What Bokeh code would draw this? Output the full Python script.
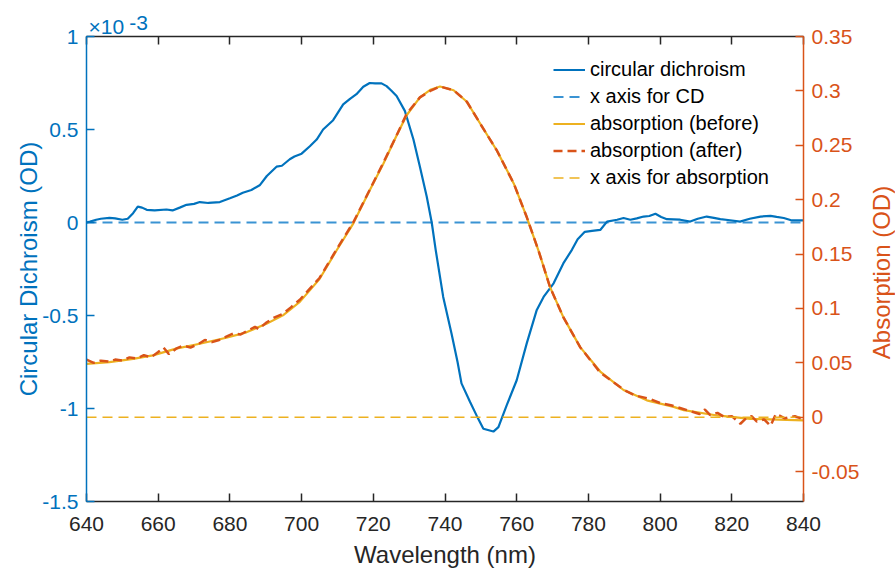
import math
from bokeh.plotting import figure
from bokeh.models import (Range1d, LinearAxis, FixedTicker, CustomJSTickFormatter,
                          Label, Legend, LegendItem)
from bokeh.embed import file_html
from bokeh.resources import INLINE

# ---------------- data ----------------
cd_wavelength = [640, 641, 642.7, 644, 646.4, 648, 650, 651.5, 653, 654.3, 655.5, 656.8,
                 659, 662.3, 664, 666, 667.9, 670, 671.6, 674, 677.2, 680, 682, 683.6,
                 686, 688.3, 690.3, 693, 694.5, 696.7, 698, 700, 702.3, 704.2, 706, 708.8,
                 711.6, 713.5, 715.3, 717.2, 719, 720.5, 722.3, 723.7, 725, 726.5, 728.8,
                 731.2, 733, 734.9, 736.3, 737.4, 739.5, 741.8, 743.5, 744.6, 747, 748.8,
                 750.7, 753.5, 754.9, 757.2, 760, 762.8, 765.6, 767.5, 770.3, 773, 775.4,
                 777, 779, 781, 783.3, 785.2, 788, 789.8, 791.7, 793.5, 795.4, 797, 798.7,
                 800.3, 801.9, 805.6, 808.4, 810.5, 813, 815, 816.8, 819.5, 822.3, 825,
                 828, 830.8, 832.5, 834.5, 836.8, 840]
cd_value_e3 = [0.0, 0.005, 0.015, 0.02, 0.025, 0.022, 0.015, 0.02, 0.05, 0.085, 0.08, 0.068,
               0.065, 0.07, 0.065, 0.08, 0.095, 0.10, 0.11, 0.105, 0.11, 0.13, 0.145, 0.16,
               0.175, 0.20, 0.25, 0.30, 0.305, 0.34, 0.355, 0.37, 0.41, 0.446, 0.50, 0.55,
               0.635, 0.665, 0.69, 0.73, 0.75, 0.748, 0.748, 0.733, 0.71, 0.68, 0.60,
               0.446, 0.30, 0.14, 0.0, -0.147, -0.40, -0.595, -0.75, -0.865, -0.965, -1.037,
               -1.109, -1.124, -1.10, -0.983, -0.848, -0.65, -0.47, -0.40, -0.327, -0.22, -0.147,
               -0.09, -0.05, -0.045, -0.04, 0.005, 0.015, 0.024, 0.015, 0.022, 0.032, 0.035, 0.047,
               0.03, 0.018, 0.015, 0.005, 0.02, 0.032, 0.025, 0.018, 0.012, 0.005, 0.02,
               0.032, 0.036, 0.03, 0.024, 0.011, 0.011]

abs_before_wavelength = [640, 646.4, 653, 658.5, 665, 671.6, 679, 684.6, 690.2, 694.8, 699.5,
                         705, 709.7, 714.4, 719, 722.8, 726.5, 729.3, 733, 735.9, 738.6,
                         742.4, 746.1, 749.8, 754.5, 759.2, 762.8, 766.1, 768.4, 769.3, 773,
                         777.7, 783.3, 789.8, 796.3, 803.8, 806.6, 815.9, 825.2, 840]
abs_before = [0.049, 0.0506, 0.0537, 0.0568, 0.063, 0.0675, 0.073, 0.078, 0.086, 0.0936, 0.106,
              0.127, 0.153, 0.178, 0.2086, 0.233, 0.259, 0.2776, 0.294, 0.301, 0.304,
              0.3006, 0.29, 0.27, 0.245, 0.2147, 0.184, 0.153, 0.129, 0.1196, 0.092,
              0.0644, 0.042, 0.025, 0.0155, 0.0095, 0.0065, 0.0016, -0.0015, -0.003]

abs_after_wavelength = [640, 642, 644, 646.4, 648, 650, 652, 654, 656, 658, 660, 661.5, 663,
                        665, 667, 669, 671.6, 673, 675, 677, 679, 681, 683, 684.6, 687, 688,
                        690.2, 692, 694.8, 697, 699.5, 705, 709.7, 714.4, 719, 722.8, 726.5,
                        729.3, 733, 735.9, 738.6, 742.4, 746.1, 749.8, 754.5, 759.2, 762.8,
                        766.1, 768.4, 769.3, 773, 777.7, 783.3, 790, 793, 797, 800, 803, 806,
                        809, 811, 812.5, 814, 816, 818, 820, 822.4, 824, 825.5, 827, 829,
                        830.8, 832.3, 834.8, 837.6, 840]
abs_after = [0.053, 0.050, 0.052, 0.051, 0.053, 0.052, 0.055, 0.054, 0.057, 0.055, 0.060, 0.064,
             0.058, 0.063, 0.066, 0.064, 0.068, 0.071, 0.069, 0.071, 0.074, 0.077, 0.076, 0.079,
             0.083, 0.081, 0.087, 0.091, 0.095, 0.101, 0.108, 0.128, 0.154, 0.179, 0.209, 0.234,
             0.259, 0.279, 0.294, 0.300, 0.304, 0.3006, 0.29, 0.27, 0.245, 0.2147, 0.184,
             0.153, 0.129, 0.1196, 0.092, 0.0644, 0.041, 0.025, 0.020, 0.017, 0.013, 0.011, 0.008,
             0.005, 0.003, 0.007, 0.002, 0.004, 0.000, 0.001, -0.006, -0.001, 0.001, -0.004, -0.002,
             -0.008, 0.003, -0.001, 0.001, -0.002]

baseline_wavelength = [640, 840]
baseline_value = [0, 0]

x_ticks = [640, 660, 680, 700, 720, 740, 760, 780, 800, 820, 840]
cd_ticks = [-1.5, -1, -0.5, 0, 0.5, 1]
abs_ticks = [-0.05, 0, 0.05, 0.1, 0.15, 0.2, 0.25, 0.3, 0.35]

# ---------------- style ----------------
FONT = "Liberation Sans"
BLUE = "#0072BD"
ORANGE = "#D95319"
YELLOW = "#EDB120"
CDZERO = "#3A93D3"
DARK = "#262626"
TICK_FS = "21px"
LABEL_FS = "24px"

fmt = "return String(tick)"

p = figure(width=895, height=571, x_range=Range1d(640, 840), y_range=Range1d(-1.5, 1),
           output_backend="svg", toolbar_location=None,
           min_border_left=86, min_border_right=92, min_border_top=36, min_border_bottom=70)
p.extra_y_ranges = {"abs": Range1d(-0.0775, 0.35)}
p.outline_line_color = None
p.xgrid.visible = False
p.ygrid.visible = False
p.background_fill_color = "white"
p.border_fill_color = "white"

# bottom axis
xa = p.xaxis[0]
xa.ticker = FixedTicker(ticks=x_ticks)
xa.formatter = CustomJSTickFormatter(code=fmt)
xa.axis_label = "Wavelength (nm)"
xa.axis_label_text_font = FONT
xa.axis_label_text_font_size = LABEL_FS
xa.axis_label_text_font_style = "normal"
xa.axis_label_text_color = DARK
xa.axis_label_standoff = 7
xa.major_label_text_font = FONT
xa.major_label_text_font_size = TICK_FS
xa.major_label_text_color = DARK
xa.major_label_standoff = 15
xa.axis_line_color = DARK
xa.axis_line_width = 1.5
xa.major_tick_line_color = DARK
xa.major_tick_line_width = 1.5
xa.major_tick_in = 8
xa.major_tick_out = 0
xa.minor_tick_line_color = None

# top axis (box edge with ticks)
ta = LinearAxis(ticker=FixedTicker(ticks=x_ticks), formatter=CustomJSTickFormatter(code="return ''"),
                axis_line_color=DARK, axis_line_width=1.5, major_tick_line_color=DARK,
                major_tick_line_width=1.5, major_tick_in=8, major_tick_out=0,
                minor_tick_line_color=None, major_label_standoff=0,
                major_label_text_font_size="1px")
p.add_layout(ta, "above")

# exponent of the left axis (×10^-3): one two-line label, "-3" raised beside "×10"
p.add_layout(Label(x=2, y=-2, x_units="screen", y_units="screen",
                   text="\u00a0" * 7 + "-3\n×10", text_line_height=0.2,
                   text_font=FONT, text_font_size="21px", text_color=BLUE,
                   text_baseline="bottom", text_align="left"), "above")

# left axis
ya = p.yaxis[0]
ya.ticker = FixedTicker(ticks=cd_ticks)
ya.formatter = CustomJSTickFormatter(code=fmt)
ya.axis_label = "Circular Dichroism (OD)"
ya.axis_label_text_font = FONT
ya.axis_label_text_font_size = LABEL_FS
ya.axis_label_text_font_style = "normal"
ya.axis_label_text_color = BLUE
ya.axis_label_standoff = -3
ya.major_label_text_font = FONT
ya.major_label_text_font_size = TICK_FS
ya.major_label_text_color = BLUE
ya.major_label_standoff = 8
ya.axis_line_color = BLUE
ya.axis_line_width = 1.5
ya.major_tick_line_color = BLUE
ya.major_tick_line_width = 1.5
ya.major_tick_in = 8
ya.major_tick_out = 0
ya.minor_tick_line_color = None

# right axis
ra = LinearAxis(y_range_name="abs", ticker=FixedTicker(ticks=abs_ticks),
                formatter=CustomJSTickFormatter(code=fmt),
                major_label_text_font=FONT, major_label_text_font_size=TICK_FS,
                major_label_text_color=ORANGE, major_label_standoff=8,
                axis_line_color=ORANGE, axis_line_width=1.5,
                major_tick_line_color=ORANGE, major_tick_line_width=1.5,
                major_tick_in=8, major_tick_out=0, minor_tick_line_color=None)
p.add_layout(ra, "right")

# right axis title (reads bottom to top), in its own panel outside the right axis
p.add_layout(Label(x=19, y=229, x_units="screen", y_units="screen", text="Absorption (OD)",
                   angle=math.pi / 2, text_font=FONT, text_font_size=LABEL_FS,
                   text_color=ORANGE, text_align="center", text_baseline="middle"), "right")

# ---------------- glyphs ----------------
r_cd0 = p.line(baseline_wavelength, baseline_value, line_color=CDZERO, line_width=1.8,
               line_dash="10 6")
r_cd = p.line(cd_wavelength, cd_value_e3, line_color=BLUE, line_width=2.2)
r_ab = p.line(abs_before_wavelength, abs_before, line_color=YELLOW, line_width=2.2,
              y_range_name="abs")
r_aa = p.line(abs_after_wavelength, abs_after, line_color=ORANGE, line_width=2.5,
              line_dash="9 5", y_range_name="abs")
r_ab0 = p.line(baseline_wavelength, baseline_value, line_color=YELLOW, line_width=1.6,
               line_dash="10 6", y_range_name="abs")

legend = Legend(items=[LegendItem(label="circular dichroism", renderers=[r_cd]),
                       LegendItem(label="x axis for CD", renderers=[r_cd0]),
                       LegendItem(label="absorption (before)", renderers=[r_ab]),
                       LegendItem(label="absorption (after)", renderers=[r_aa]),
                       LegendItem(label="x axis for absorption", renderers=[r_ab0])],
                location=(467, 310), orientation="vertical",
                border_line_color=None, background_fill_alpha=0,
                label_text_font=FONT, label_text_font_size="20px", label_text_color="#000000",
                glyph_width=32, glyph_height=27, label_height=27, label_standoff=5,
                spacing=0, padding=0, margin=0)
p.add_layout(legend, "center")

open("out.html", "w").write(file_html(p, INLINE))
